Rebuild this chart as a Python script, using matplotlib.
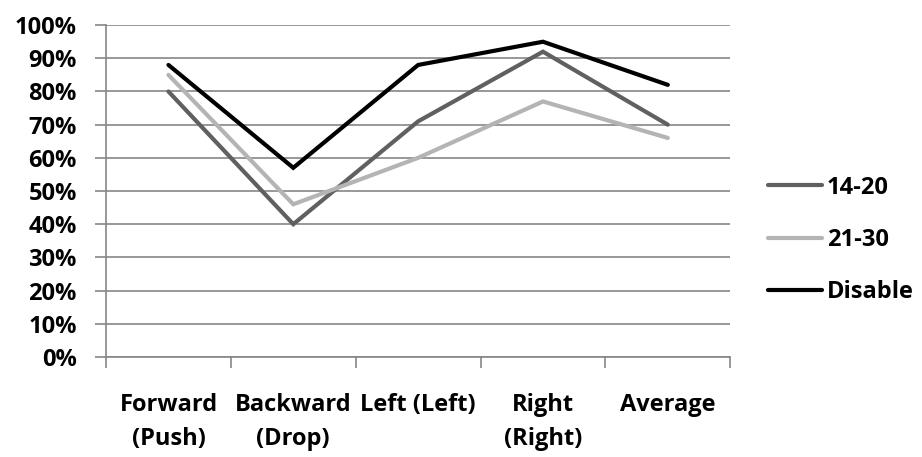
import matplotlib.pyplot as plt
from matplotlib.ticker import PercentFormatter

categories = ["Forward\n(Push)", "Backward\n(Drop)", "Left (Left)", "Right\n(Right)", "Average"]
series_names = ["14-20", "21-30", "Disable"]
vals_14_20 = [80, 40, 71, 92, 70]
vals_21_30 = [85, 46, 60, 77, 66]
vals_disable = [88, 57, 88, 95, 82]
colors = ["#606060", "#b4b4b4", "#000000"]

plt.rcParams['font.family'] = ['Open Sans', 'DejaVu Sans']
plt.rcParams['font.weight'] = 'bold'
fs = 17

fig = plt.figure(figsize=(9.22, 4.57), dpi=100)
ax = fig.add_axes([0.115, 0.219, 0.677, 0.726])

x = [i + 0.5 for i in range(len(categories))]
for name, vals, c in zip(series_names, [vals_14_20, vals_21_30, vals_disable], colors):
    ax.plot(x, vals, color=c, lw=3.0, label=name, solid_capstyle='round', solid_joinstyle='miter')

ax.set_xlim(0, len(categories))
ax.set_ylim(0, 100)
ax.set_yticks(range(0, 101, 10))
ax.yaxis.set_major_formatter(PercentFormatter(decimals=0))
ax.set_xticks(range(len(categories) + 1))
ax.set_xticklabels([])
ax.set_xticks(x, minor=True)
ax.set_xticklabels(categories, minor=True, fontsize=fs, fontweight='bold', linespacing=1.55)
ax.tick_params(axis='x', which='minor', length=0, pad=26)
ax.tick_params(axis='x', which='major', length=8, color='#868686', width=1.2)
ax.tick_params(axis='y', length=8, color='#868686', width=1.2, labelsize=fs, pad=13)
for lab in ax.get_yticklabels():
    lab.set_fontweight('bold')

ax.grid(axis='y', color='#868686', lw=1.2)
ax.set_axisbelow(True)
for s in ['top', 'right']:
    ax.spines[s].set_visible(False)
for s in ['left', 'bottom']:
    ax.spines[s].set_color('#868686')
    ax.spines[s].set_linewidth(1.2)

leg = fig.legend(loc='center left', bbox_to_anchor=(0.833, 0.475), frameon=False,
                 borderpad=0, borderaxespad=0,
                 fontsize=fs, handlelength=2.3, handletextpad=0.2, labelspacing=1.2)
for t in leg.get_texts():
    t.set_fontweight('bold')

fig.savefig('out.png', dpi=100)
